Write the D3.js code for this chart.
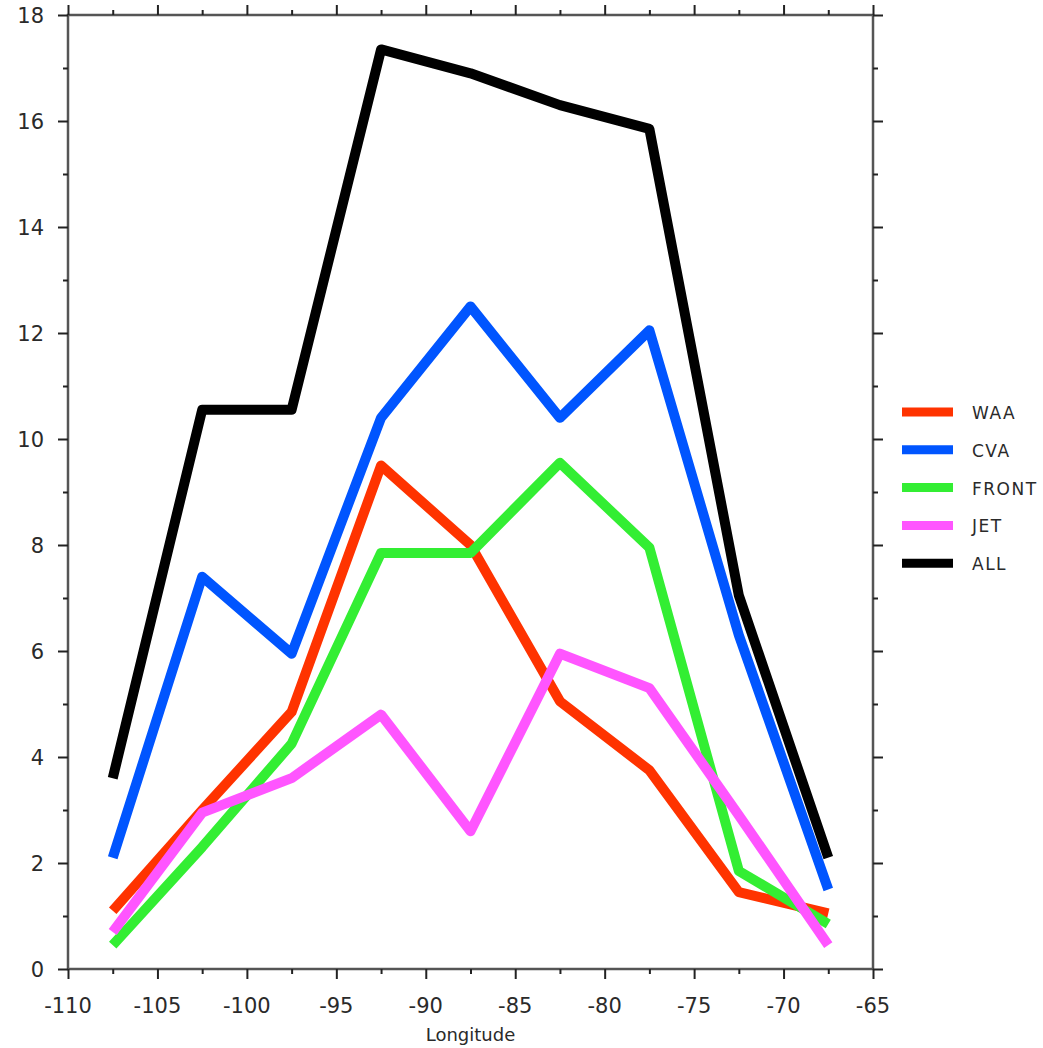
<!DOCTYPE html>
<html>
<head>
<meta charset="utf-8">
<script src="https://cdn.jsdelivr.net/npm/d3@7"></script>
<style>
  body { margin: 0; background: #fff; }
  text { font-family: "DejaVu Sans", sans-serif; fill: #2a2a2a; }
</style>
</head>
<body>
<svg id="chart" width="1043" height="1048"></svg>
<script>
// Longitudes of the bin centres
const longitudes = [-107.5, -102.5, -97.5, -92.5, -87.5, -82.5, -77.5, -72.5, -67.5];

// Series values
const waa   = [1.1, 3.0, 4.85, 9.5, 8.0, 5.05, 3.75, 1.45, 1.05];
const cva   = [2.1, 7.4, 5.95, 10.4, 12.5, 10.4, 12.05, 6.3, 1.5];
const front = [0.45, 2.3, 4.25, 7.85, 7.85, 9.55, 7.95, 1.85, 0.85];
const jet   = [0.7, 2.95, 3.6, 4.8, 2.6, 5.95, 5.3, 2.9, 0.45];
const all   = [3.6, 10.55, 10.55, 17.35, 16.9, 16.3, 15.85, 7.05, 2.1];

const seriesNames = ['WAA', 'CVA', 'FRONT', 'JET', 'ALL'];
const seriesColors = ['#ff3300', '#0055ff', '#33ee33', '#ff55ff', '#000000'];
const seriesValues = [waa, cva, front, jet, all];

const xTicks = [-110, -105, -100, -95, -90, -85, -80, -75, -70, -65];
const yTicks = [0, 2, 4, 6, 8, 10, 12, 14, 16, 18];

const conf = {
  left: 68, right: 873,
  top: 15, bottom: 969,
  lineWidth: 10
};

const svg = d3.select('#chart');

const x = d3.scaleLinear().domain([-110, -65]).range([conf.left, conf.right]);
const y = d3.scaleLinear().domain([0, 18]).range([conf.bottom, conf.top]);

// Minor ticks: every 2.5 deg on x, every 1 on y
const xMinor = d3.range(-107.5, -65, 5);
const yMinor = d3.range(1, 18, 2);

const axisG = svg.append('g');

// Frame
axisG.append('rect')
  .attr('x', conf.left).attr('y', conf.top)
  .attr('width', conf.right - conf.left).attr('height', conf.bottom - conf.top)
  .attr('fill', 'none').attr('stroke', '#555').attr('stroke-width', 2.5);

function ticks(axisFn, scale, vals, size, transform) {
  axisG.append('g')
    .attr('transform', transform)
    .call(axisFn(scale).tickValues(vals).tickSize(size).tickFormat(''))
    .call(g => g.select('.domain').remove())
    .call(g => g.selectAll('line').attr('stroke', '#222').attr('stroke-width', 2));
}

// Major ticks on all four sides
ticks(d3.axisBottom, x, xTicks, 10, `translate(0,${conf.bottom})`);
ticks(d3.axisTop, x, xTicks, 10, `translate(0,${conf.top})`);
ticks(d3.axisLeft, y, yTicks, 10, `translate(${conf.left},0)`);
ticks(d3.axisRight, y, yTicks, 10, `translate(${conf.right},0)`);
// Minor ticks
ticks(d3.axisBottom, x, xMinor, 5, `translate(0,${conf.bottom})`);
ticks(d3.axisTop, x, xMinor, 5, `translate(0,${conf.top})`);
ticks(d3.axisLeft, y, yMinor, 5, `translate(${conf.left},0)`);
ticks(d3.axisRight, y, yMinor, 5, `translate(${conf.right},0)`);

// Tick labels
axisG.selectAll('.xlab')
  .data(xTicks)
  .enter().append('text')
  .attr('x', d => x(d))
  .attr('y', conf.bottom + 44)
  .attr('text-anchor', 'middle')
  .attr('font-size', 21)
  .text(d => String(d));

axisG.selectAll('.ylab')
  .data(yTicks)
  .enter().append('text')
  .attr('x', conf.left - 24)
  .attr('y', d => y(d) + 8)
  .attr('text-anchor', 'end')
  .attr('font-size', 21)
  .text(d => d);

axisG.append('text')
  .attr('x', x(-87.5))
  .attr('y', conf.bottom + 72)
  .attr('text-anchor', 'middle')
  .attr('font-size', 18)
  .text('Longitude');

// Lines
const line = d3.line()
  .x((d, i) => x(longitudes[i]))
  .y(d => y(d));

svg.append('g').selectAll('path')
  .data(seriesValues)
  .enter().append('path')
  .attr('d', line)
  .attr('fill', 'none')
  .attr('stroke', (d, i) => seriesColors[i])
  .attr('stroke-width', conf.lineWidth)
  .attr('stroke-linejoin', 'round')
  .attr('stroke-linecap', 'butt');

// Legend
const legend = svg.append('g').attr('transform', 'translate(902,412)');
const item = legend.selectAll('g')
  .data(seriesNames)
  .enter().append('g')
  .attr('transform', (d, i) => `translate(0,${i * 37.8})`);

item.append('line')
  .attr('x1', 0).attr('x2', 51)
  .attr('stroke', (d, i) => seriesColors[i])
  .attr('stroke-width', 9);

item.append('text')
  .attr('x', 70)
  .attr('y', 7)
  .attr('font-size', 17)
  .attr('letter-spacing', 1.5)
  .text(d => d);
</script>
</body>
</html>
